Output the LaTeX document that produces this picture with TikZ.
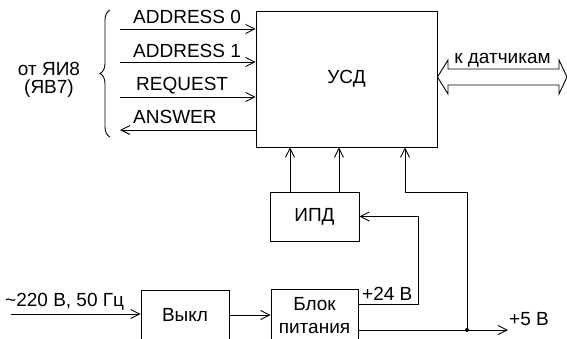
\documentclass[tikz,border=0pt]{standalone}
\usepackage{fontspec}
\setmainfont{Liberation Sans}
\usetikzlibrary{arrows.meta,decorations.pathreplacing}
\tikzset{
  lbl/.style={inner sep=0pt, font=\fontsize{19pt}{22pt}\selectfont},
  box/.style={draw, line width=0.9pt, inner sep=0pt, font=\fontsize{19pt}{22pt}\selectfont, align=center},
  wire/.style={line width=0.9pt},
  arr/.style={line width=0.9pt, -{Straight Barb[length=9pt,width=9pt]}},
}
\begin{document}
\begin{tikzpicture}[x=1pt,y=-1pt]
\useasboundingbox (0,0) rectangle (567,338);
\clip (0,0) rectangle (567,338);
% boxes
\node[box, minimum width=181pt, minimum height=136pt] (usd) at (346.5,79) {УСД};
\node[box, minimum width=89pt, minimum height=49pt] (ipd) at (314.5,216.5) {ИПД};
\node[box, minimum width=88pt, minimum height=50pt] (vykl) at (185,315) {Выкл};
\node[box, minimum width=87pt, minimum height=54pt, font=\fontsize{19pt}{23pt}\selectfont] (blok) at (314.5,316) {Блок\\питания};
% left signals
\coordinate (s1) at (120,29);
\coordinate (s2) at (120,62);
\coordinate (s3) at (120,97);
\coordinate (s4) at (120,130);
\draw[arr] (s1) -- (s1 -| usd.west);
\draw[arr] (s2) -- (s2 -| usd.west);
\draw[arr] (s3) -- (s3 -| usd.west);
\draw[arr] (s4 -| usd.west) -- (s4);
\node[lbl, anchor=base west] (l1) at (133,23) {ADDRESS 0};
\node[lbl, anchor=base west] (l2) at (133,57) {ADDRESS 1};
\node[lbl, anchor=base west] (l3) at (136,90) {REQUEST};
\node[lbl, anchor=base west] (l4) at (133,123) {ANSWER};
% brace
\draw[wire, decorate, decoration={brace, amplitude=10pt}] (110,137) -- (110,10);
\node[lbl, align=center, font=\fontsize{19pt}{18pt}\selectfont] (src) at (49,80) {от ЯИ8\\(ЯВ7)};
% double arrow to sensors
\draw[wire, line join=miter] (usd.east |- 0,77) -- (448,60) -- (448,69) -- (559,69) -- (559,60) -- (567,77) -- (559,94) -- (559,85) -- (448,85) -- (448,94) -- cycle;
\node[lbl, anchor=base] (sens) at (502.5,63) {к датчикам};
% IPD to USD
\draw[arr] ([xshift=-24.5pt]ipd.north) -- ([xshift=-24.5pt]ipd.north |- usd.south);
\draw[arr] ([xshift=24.5pt]ipd.north) -- ([xshift=24.5pt]ipd.north |- usd.south);
% +5 V
\coordinate (j) at (467,330);
\coordinate (c5) at (405,192);
\coordinate (tip5) at (508,330);
\draw[arr] (blok.east |- tip5) -- (tip5);
\draw[arr] (j) |- (c5) -- (c5 |- usd.south);
\fill (j) circle (2pt);
\node[lbl, anchor=base west] (v5) at (509,325) {+5 В};
% +24 V
\draw[arr] ([yshift=12pt]blok.east) -- ++(60,0) |- (ipd.east);
\node[lbl, anchor=base west] (v24) at (362,300) {+24 В};
% mains
\coordinate (in) at (11,314);
\draw[arr] (in) -- (in -| vykl.west);
\node[lbl, anchor=base west] (mains) at (5,306) {\textasciitilde220 В, 50 Гц};
\draw[arr] (vykl.east) -- (vykl.east -| blok.west);
\end{tikzpicture}
\end{document}
